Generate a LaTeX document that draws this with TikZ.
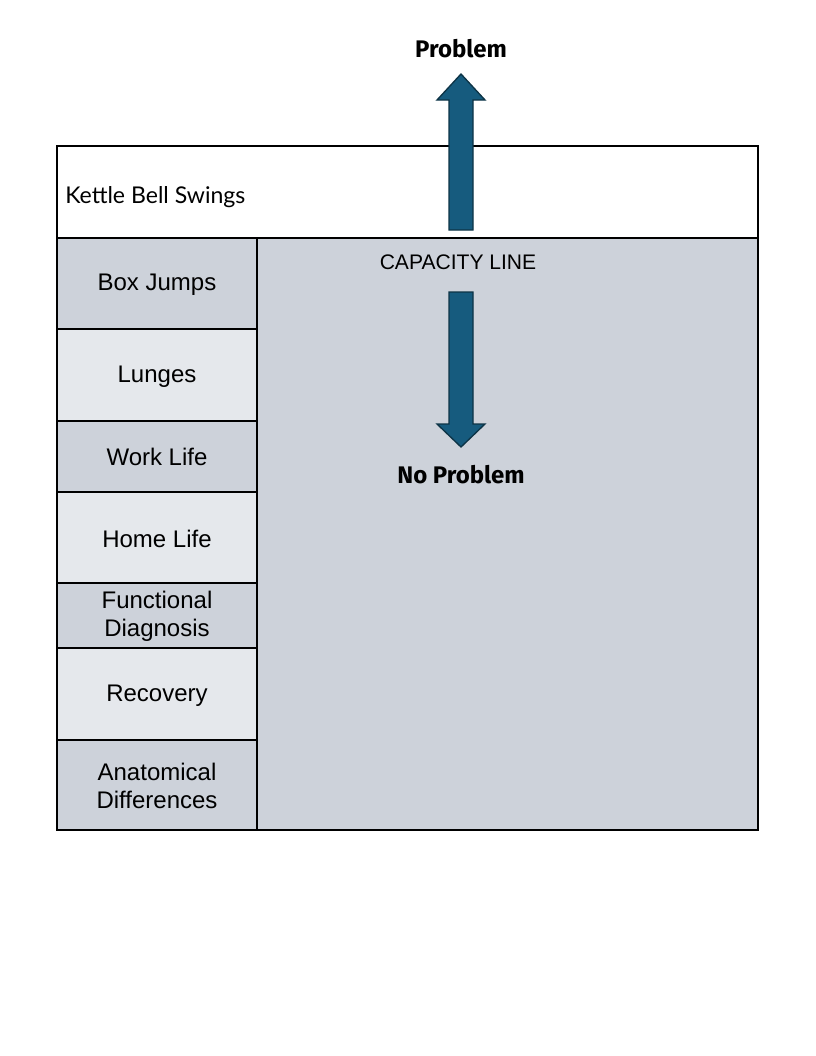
\documentclass[tikz,border=0pt]{standalone}
\usepackage{fontspec}
\setmainfont{Liberation Sans}
\newfontfamily\headf{Fira Sans}
\newfontfamily\aptosf{Lato}
\definecolor{cellD}{HTML}{CDD2DA}
\definecolor{cellL}{HTML}{E5E8EC}
\definecolor{arrowF}{HTML}{165B7E}
\definecolor{arrowE}{HTML}{0D3446}
\begin{document}
\begin{tikzpicture}[x=0.75pt,y=-0.75pt,
  cellbox/.style={draw=black,line width=1.2pt},
  celltext/.style={align=center,font=\fontsize{18}{21}\selectfont,inner sep=0pt},
  headtext/.style={font=\headf\bfseries\fontsize{18}{21}\selectfont,inner sep=0pt},
  bigarrow/.style={fill=arrowF,draw=arrowE,line width=1pt,line join=miter}]
\useasboundingbox (0,0) rectangle (816,1056);
% top white row
\path[cellbox,fill=white] (57,146) rectangle (758,238);
% right big cell
\path[cellbox,fill=cellD] (257,238) rectangle (758,830);
% left column cells
\path[cellbox,fill=cellD] (57,238) rectangle (257,329);
\path[cellbox,fill=cellL] (57,329) rectangle (257,421);
\path[cellbox,fill=cellD] (57,421) rectangle (257,492);
\path[cellbox,fill=cellL] (57,492) rectangle (257,583);
\path[cellbox,fill=cellD] (57,583) rectangle (257,648);
\path[cellbox,fill=cellL] (57,648) rectangle (257,740);
\path[cellbox,fill=cellD] (57,740) rectangle (257,830);
% texts
\node[anchor=west,inner sep=0pt,font=\aptosf\fontsize{17.3}{20}\selectfont] (kbs) at (65,197) {Kettle Bell Swings};
\node[celltext] (box) at (157,285) {Box Jumps};
\node[celltext] (lun) at (157,377) {Lunges};
\node[celltext] (work) at (157,457) {Work Life};
\node[celltext] (home) at (157,539) {Home Life};
\node[celltext] (func) at (157,616) {Functional\\Diagnosis};
\node[celltext] (rec) at (157,696) {Recovery};
\node[celltext] (ana) at (157,786) {Anatomical\\Differences};
\node[inner sep=0pt,font=\fontsize{15.8}{18}\selectfont] (cap) at (458,262) {CAPACITY LINE};
\node[headtext] (prob) at (461,49) {Problem};
\node[headtext] (noprob) at (461,475) {No Problem};
% arrows
\path[bigarrow] (449,230) -- (449,100) -- (437,100) -- (461,74) -- (485,100) -- (473,100) -- (473,230) -- cycle;
\path[bigarrow] (449,292) -- (449,424) -- (437,424) -- (461,447) -- (485,424) -- (473,424) -- (473,292) -- cycle;
\end{tikzpicture}
\end{document}
